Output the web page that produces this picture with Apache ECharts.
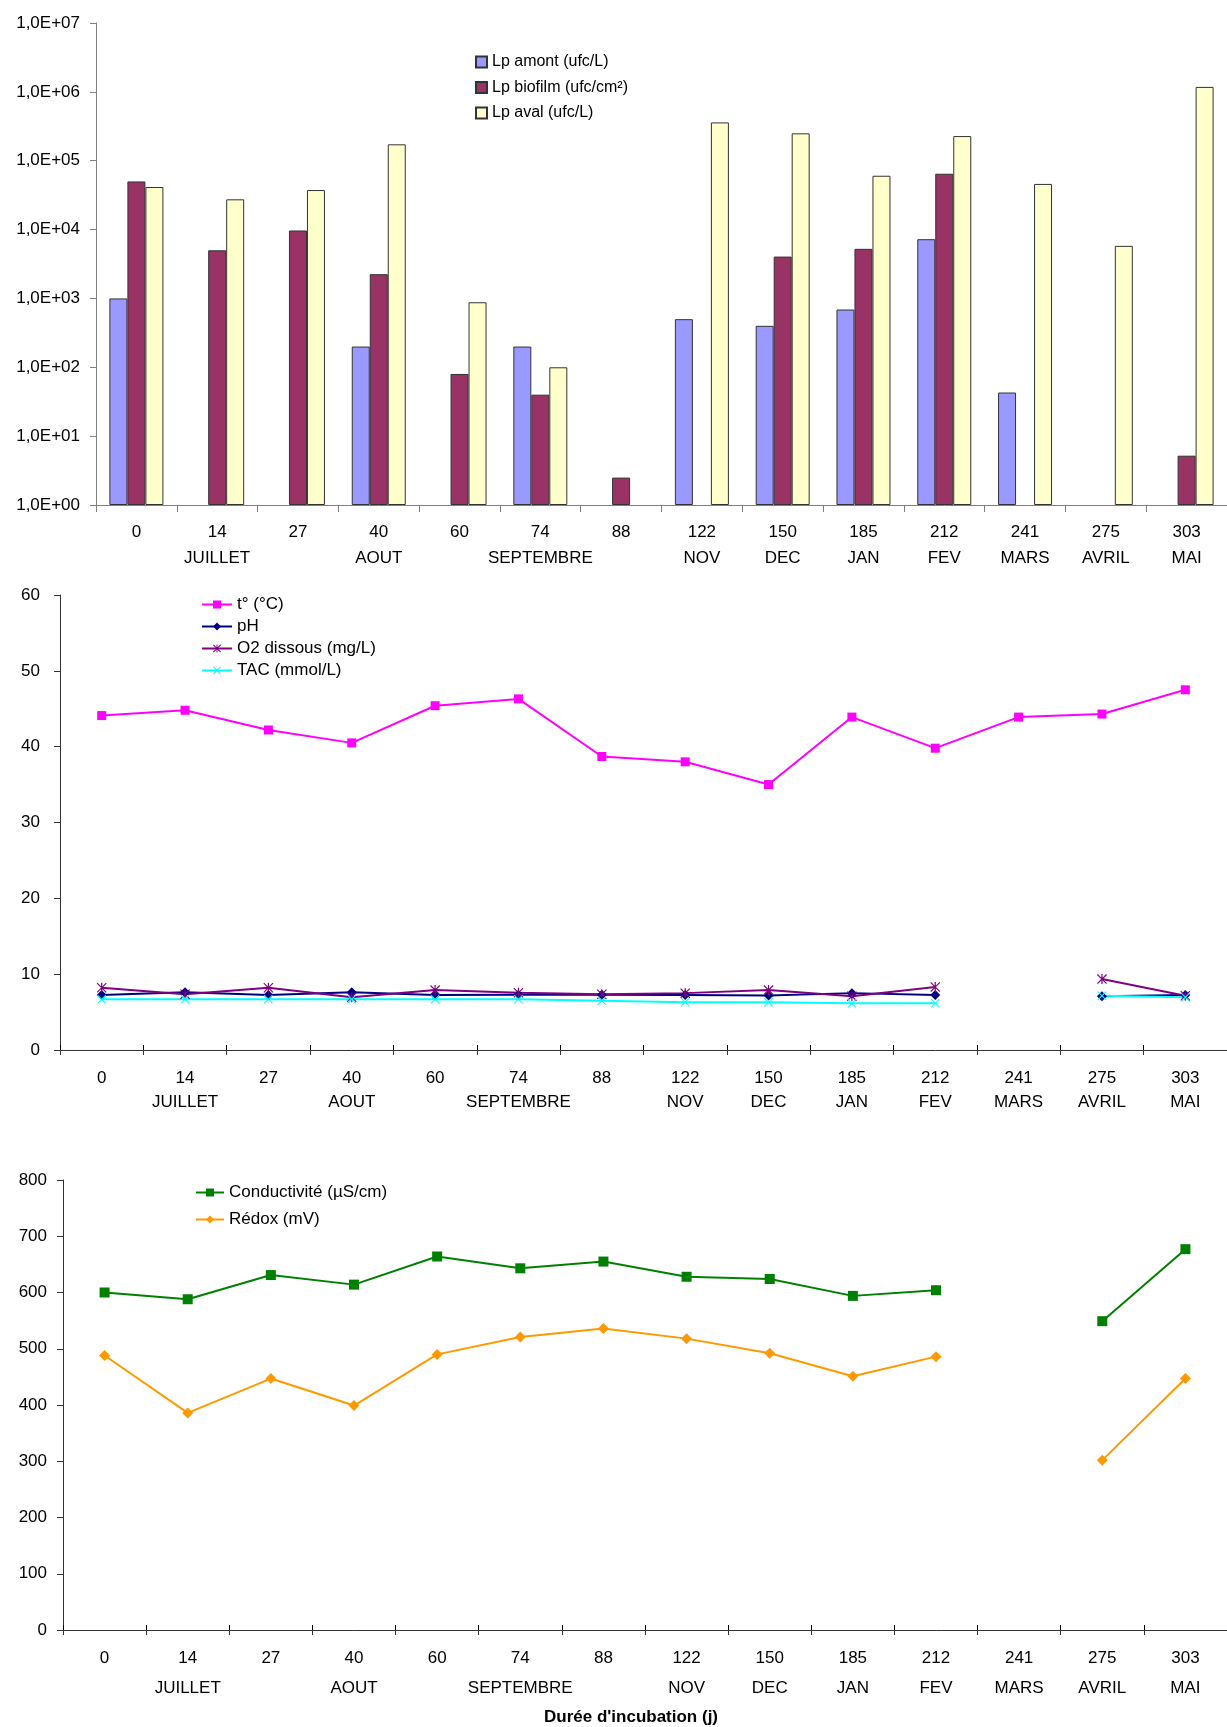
<!DOCTYPE html>
<html>
<head>
<meta charset="utf-8">
<script src="https://cdn.jsdelivr.net/npm/echarts@6/dist/echarts.min.js"></script>
<style>
  html, body { margin: 0; padding: 0; background: #fff; }
  #chart { width: 1227px; height: 1727px; }
</style>
</head>
<body>
<div id="chart"></div>
<script>
// jours d'incubation et mois
const days = ['0', '14', '27', '40', '60', '74', '88', '122', '150', '185', '212', '241', '275', '303'];
const months = ['', 'JUILLET', '', 'AOUT', '', 'SEPTEMBRE', '', 'NOV', 'DEC', 'JAN', 'FEV', 'MARS', 'AVRIL', 'MAI'];

// Legionella (echelle log)
const lpAmont = [1000, null, null, 200, null, 200, null, 500, 400, 690, 7250, 43, null, null];
const lpBiofilm = [50000, 5000, 9700, 2250, 80, 40, 2.5, null, 4050, 5250, 64700, null, null, 5.2];
const lpAval = [41500, 27500, 37500, 173000, 880, 100, null, 360000, 250000, 60500, 228000, 46000, 5800, 1180000];
const logTickLabels = ['1,0E+00', '1,0E+01', '1,0E+02', '1,0E+03', '1,0E+04', '1,0E+05', '1,0E+06', '1,0E+07'];

// parametres physico-chimiques
const temperature = [44.1, 44.8, 42.2, 40.5, 45.4, 46.3, 38.7, 38.0, 35.0, 43.9, 39.8, 43.9, 44.3, 47.5];
const ph = [7.25, 7.6, 7.25, 7.6, 7.25, 7.3, 7.3, 7.25, 7.2, 7.5, 7.25, null, 7.1, 7.25];
const o2 = [8.2, 7.35, 8.2, 6.95, 7.9, 7.55, 7.35, 7.5, 7.9, 7.1, 8.3, null, 9.35, 7.15];
const tac = [6.7, 6.7, 6.7, 6.7, 6.7, 6.7, 6.5, 6.3, 6.3, 6.15, 6.15, null, 7.15, 6.95];

const conductivite = [600, 588, 631, 614, 664, 643, 655, 628, 624, 594, 604, null, 549, 677];
const redox = [488, 386, 447, 399, 490, 521, 536, 518, 492, 451, 486, null, 302, 447];

const FONT = "'Liberation Sans', Arial, sans-serif";
const starPath = 'path://M4.4,0H5.6V10H4.4Z M0.8,0L10,9.2L9.2,10L0,0.8Z M9.2,0L10,0.8L0.8,10L0,9.2Z';
const crossPath = 'path://M0.8,0L10,9.2L9.2,10L0,0.8Z M9.2,0L10,0.8L0.8,10L0,9.2Z';

const myChart = echarts.init(document.getElementById('chart'), null, { renderer: 'canvas' });

function catAxis(gridIndex, margin, lineHeight, lineColor, tickInside) {
  return {
    type: 'category',
    gridIndex: gridIndex,
    data: days,
    position: 'bottom',
    boundaryGap: true,
    axisLine: { show: true, onZero: false, lineStyle: { color: lineColor, width: 1 } },
    axisTick: { show: true, inside: false, length: tickInside ? 5 : 7, lineStyle: { color: lineColor } },
    axisLabel: {
      margin: margin,
      interval: 0,
      color: '#000',
      fontFamily: FONT,
      fontSize: 17,
      lineHeight: lineHeight,
      formatter: function (value, index) {
        return value + '\n' + months[index];
      }
    }
  };
}

// axe supplementaire: graduations qui traversent l'axe
function innerTicks(gridIndex) {
  return {
    type: 'category',
    gridIndex: gridIndex,
    data: days,
    position: 'bottom',
    boundaryGap: true,
    axisLine: { show: false, onZero: false },
    axisTick: { show: true, inside: true, length: 5, lineStyle: { color: '#000' } },
    axisLabel: { show: false }
  };
}

function valAxis(gridIndex, max, interval, lineColor, margin) {
  return {
    type: 'value',
    gridIndex: gridIndex,
    min: 0,
    max: max,
    interval: interval,
    splitLine: { show: false },
    axisLine: { show: true, lineStyle: { color: lineColor } },
    axisTick: { show: true, length: 6, lineStyle: { color: lineColor } },
    axisLabel: { color: '#000', fontFamily: FONT, fontSize: 17, margin: margin }
  };
}

function barSerie(name, data, color) {
  return {
    name: name,
    type: 'bar',
    xAxisIndex: 0,
    yAxisIndex: 0,
    data: data,
    barWidth: 18,
    barGap: '0%',
    itemStyle: { color: color, borderColor: '#333', borderWidth: 1 }
  };
}

function lineSerie(name, axisIdx, data, color, symbol, size) {
  return {
    name: name,
    type: 'line',
    xAxisIndex: axisIdx,
    yAxisIndex: axisIdx,
    data: data,
    symbol: symbol,
    symbolSize: size,
    showSymbol: true,
    connectNulls: false,
    lineStyle: { color: color, width: 2 },
    itemStyle: { color: color },
    emphasis: { disabled: true }
  };
}

const option = {
  backgroundColor: '#fff',
  animation: false,
  textStyle: { fontFamily: FONT },
  grid: [
    { left: 96, top: 23, width: 1137, height: 482 },
    { left: 60, top: 595, width: 1171, height: 455 },
    { left: 63, top: 1180, width: 1172, height: 450 }
  ],
  legend: [
    {
      data: ['Lp amont (ufc/L)', 'Lp biofilm (ufc/cm²)', 'Lp aval (ufc/L)'],
      orient: 'vertical',
      left: 475,
      top: 54,
      padding: 0,
      itemWidth: 11,
      itemHeight: 11,
      itemGap: 9.5,
      icon: 'rect',
      textStyle: { fontSize: 16, lineHeight: 16, color: '#000', fontFamily: FONT }
    },
    {
      data: ['t° (°C)', 'pH', 'O2 dissous (mg/L)', 'TAC (mmol/L)'],
      orient: 'vertical',
      left: 201,
      top: 596,
      padding: 0,
      itemWidth: 30,
      itemHeight: 10,
      itemGap: 5,
      textStyle: { fontSize: 17, lineHeight: 16, color: '#000', fontFamily: FONT }
    },
    {
      data: ['Conductivité (µS/cm)', 'Rédox (mV)'],
      orient: 'vertical',
      left: 195,
      top: 1184,
      padding: 0,
      itemWidth: 28,
      itemHeight: 10,
      itemGap: 10,
      textStyle: { fontSize: 17, lineHeight: 17, color: '#000', fontFamily: FONT }
    }
  ],
  title: {
    text: "Durée d'incubation (j)",
    left: 631,
    top: 1709,
    padding: 0,
    textAlign: 'center',
    textStyle: { fontSize: 17, fontWeight: 'bold', color: '#000', fontFamily: FONT }
  },
  xAxis: [
    catAxis(0, 14, 26, '#808080', false),
    catAxis(1, 16, 24, '#333', true),
    catAxis(2, 13, 30, '#333', true),
    innerTicks(1),
    innerTicks(2)
  ],
  yAxis: [
    {
      type: 'log',
      gridIndex: 0,
      logBase: 10,
      min: 1,
      max: 10000000,
      splitLine: { show: false },
      axisLine: { show: true, lineStyle: { color: '#808080' } },
      axisTick: { show: true, length: 6, lineStyle: { color: '#808080' } },
      axisLabel: {
        color: '#000',
        fontFamily: FONT,
        fontSize: 17,
        margin: 16,
        formatter: function (value) {
          return logTickLabels[Math.round(Math.log10(value))];
        }
      }
    },
    valAxis(1, 60, 10, '#333', 20),
    valAxis(2, 800, 100, '#333', 16)
  ],
  series: [
    barSerie('Lp amont (ufc/L)', lpAmont, '#9999FF'),
    barSerie('Lp biofilm (ufc/cm²)', lpBiofilm, '#993366'),
    barSerie('Lp aval (ufc/L)', lpAval, '#FFFFCC'),
    lineSerie('t° (°C)', 1, temperature, '#FF00FF', 'rect', 9),
    lineSerie('pH', 1, ph, '#000080', 'diamond', 10),
    lineSerie('O2 dissous (mg/L)', 1, o2, '#800080', starPath, 10),
    lineSerie('TAC (mmol/L)', 1, tac, '#00FFFF', crossPath, 9),
    lineSerie('Conductivité (µS/cm)', 2, conductivite, '#008000', 'rect', 10),
    lineSerie('Rédox (mV)', 2, redox, '#FF9900', 'diamond', 11)
  ]
};

myChart.setOption(option);
</script>
</body>
</html>
